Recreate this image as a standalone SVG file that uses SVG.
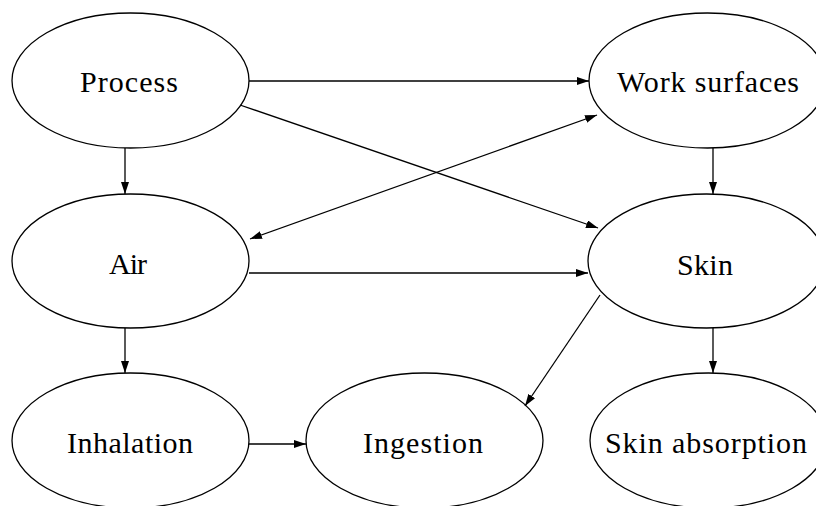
<svg xmlns="http://www.w3.org/2000/svg" width="816" height="506" viewBox="0 0 816 506">
<style>
.node ellipse{fill:#fff;stroke:#000;stroke-width:1.3}
.node text{font-family:"Liberation Serif","Times New Roman",serif;font-size:30px;fill:#000;text-anchor:middle}
.edges line{stroke:#000;stroke-width:1.3}
</style>
<defs>
<marker id="ah" markerWidth="12" markerHeight="8" refX="12" refY="4" orient="auto-start-reverse" markerUnits="userSpaceOnUse">
<path d="M0,0 L12,4 L0,8 z" fill="#000"/>
</marker>
</defs>
<rect width="816" height="506" fill="#fff"/>
<g id="n-process" class="node"><ellipse cx="130.5" cy="80.5" rx="118.5" ry="67.5"/><text x="129" y="92" textLength="98" lengthAdjust="spacing">Process</text></g>
<g id="n-work" class="node"><ellipse cx="707.5" cy="80.5" rx="118.5" ry="67.5"/><text x="708" y="92" textLength="182" lengthAdjust="spacing">Work surfaces</text></g>
<g id="n-air" class="node"><ellipse cx="130.5" cy="261" rx="118.5" ry="67"/><text x="128" y="274" textLength="38" lengthAdjust="spacing">Air</text></g>
<g id="n-skin" class="node"><ellipse cx="706.5" cy="261" rx="118.5" ry="67"/><text x="705" y="275" textLength="56" lengthAdjust="spacing">Skin</text></g>
<g id="n-inhalation" class="node"><ellipse cx="130.5" cy="440.5" rx="118.5" ry="67.5"/><text x="130" y="453" textLength="126" lengthAdjust="spacing">Inhalation</text></g>
<g id="n-ingestion" class="node"><ellipse cx="424.5" cy="440.5" rx="118.5" ry="67.5"/><text x="423" y="453" textLength="120" lengthAdjust="spacing">Ingestion</text></g>
<g id="n-skinabs" class="node"><ellipse cx="708.5" cy="440.5" rx="118.5" ry="67.5"/><text x="706" y="453" textLength="202" lengthAdjust="spacing">Skin absorption</text></g>
<g id="edges" class="edges">
<line x1="249" y1="81" x2="589" y2="81" marker-end="url(#ah)"/>
<line x1="240" y1="105" x2="598" y2="228" marker-end="url(#ah)"/>
<line x1="250" y1="239" x2="597" y2="115" marker-start="url(#ah)" marker-end="url(#ah)"/>
<line x1="125" y1="148" x2="125" y2="194" marker-end="url(#ah)"/>
<line x1="713" y1="148" x2="713" y2="194" marker-end="url(#ah)"/>
<line x1="249" y1="273" x2="588" y2="273" marker-end="url(#ah)"/>
<line x1="125" y1="328" x2="125" y2="373" marker-end="url(#ah)"/>
<line x1="713" y1="328" x2="713" y2="373" marker-end="url(#ah)"/>
<line x1="600" y1="295" x2="525" y2="406" marker-end="url(#ah)"/>
<line x1="249" y1="444" x2="306" y2="444" marker-end="url(#ah)"/>
</g>
</svg>
